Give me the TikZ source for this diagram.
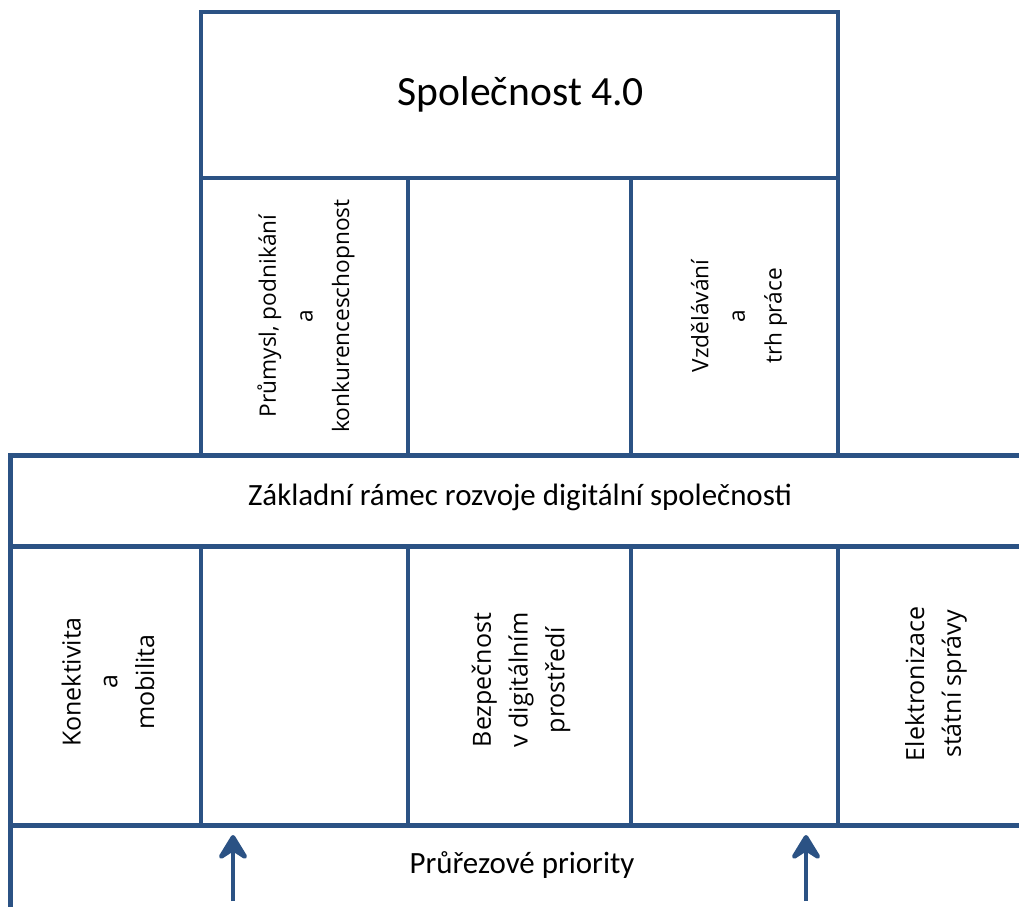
\documentclass[tikz,border=0pt]{standalone}
\usepackage{fontspec}
\setmainfont{Carlito}
\newfontfamily\opensans{Open Sans}
\usepackage{tikz}
\usetikzlibrary{arrows.meta,positioning}
\definecolor{framecol}{RGB}{43,82,132}
\tikzset{
  wall/.style={draw=framecol,line width=3pt,line join=miter},
  band/.style={draw=framecol,line width=3.75pt},
  pillar/.style={rotate=90,align=center,font=\opensans\fontsize{17pt}{27.5pt}\selectfont},
  base/.style={rotate=90,align=center,font=\opensans\fontsize{18.75pt}{27.5pt}\selectfont},
  title/.style={font=\fontsize{23.2pt}{27pt}\selectfont},
  uparrow/.style={draw=framecol,line width=3.4pt,-{Stealth[length=23pt,width=28pt,inset=9pt,round]}}
}
\begin{document}
\begin{tikzpicture}[x=0.75pt,y=-0.75pt]
  \useasboundingbox (0,0) rectangle (1019,906);
  \clip (0,0) rectangle (1019,906);
  \fill[white] (0,0) rectangle (1019,906);
  \draw[wall] (201,455) -- (201,12) -- (838,12) -- (838,455);
  \draw[wall] (201,178) -- (838,178);
  \draw[wall] (408,178) -- (408,455);
  \draw[wall] (631,178) -- (631,455);
  \draw[band] (10,908) -- (10,455) -- (1030,455);
  \draw[band] (10,546) -- (1030,546);
  \draw[band] (10,825) -- (1030,825);
  \foreach \x in {201,408,631,838}
    \draw[wall] (\x,546) -- (\x,825);
  \node[font=\fontsize{31.2pt}{36pt}\selectfont] (spolecnost) at (521,94) {Společnost 4.0};
  \node[pillar] (prumysl) at (306,316) {Průmysl, podnikání\\a\\konkurenceschopnost};
  \node[pillar] (vzdelavani) at (739,316) {Vzdělávání\\a\\trh práce};
  \node[title] (ramec) at (520,497) {Základní rámec rozvoje digitální společnosti};
  \node[base] (konektivita) at (108,682) {Konektivita\\a\\mobilita};
  \node[base] (bezpecnost) at (521,680) {Bezpečnost\\v digitálním\\prostředí};
  \node[base] (egov) at (936,684) {Elektronizace\\státní správy};
  \node[title] (prurez) at (522,865) {Průřezové priority};
  \coordinate (l0) at (233,901);
  \coordinate (l1) at (233,835);
  \coordinate (r0) at (806,901);
  \coordinate (r1) at (806,835);
  \draw[uparrow] (l0) -- (l1);
  \draw[uparrow] (r0) -- (r1);
\end{tikzpicture}
\end{document}
